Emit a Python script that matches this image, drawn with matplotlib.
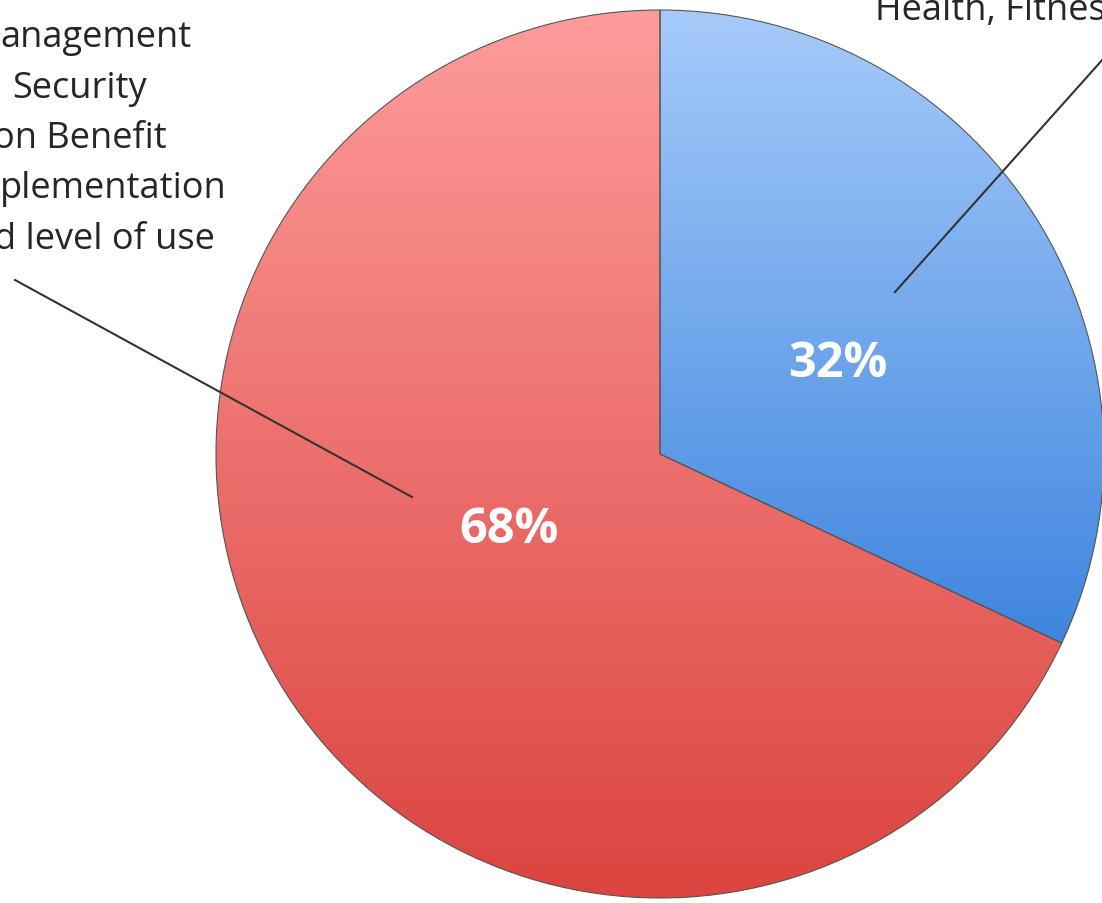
import numpy as np
import matplotlib.pyplot as plt
from matplotlib.colors import LinearSegmentedColormap

# data
categories = ['Health, Fitness', 'Management / Security / Benefit']
values = [32, 68]
pct_labels = ['32%', '68%']
left_lines = ['anagement', 'Security', 'on Benefit', 'plementation', 'd level of use']

W, H = 1102, 904
plt.rcParams['font.family'] = ['Open Sans', 'DejaVu Sans']

fig = plt.figure(figsize=(W / 100, H / 100), dpi=100)
ax = fig.add_axes([0, 0, 1, 1])

center = (660, 449)
radius = 444
wedges, _ = ax.pie(values, startangle=90, counterclock=False, center=center,
                   radius=radius, colors=['none', 'none'],
                   wedgeprops=dict(edgecolor='#555555', linewidth=0.8))

grads = [('#a6cbfa', '#3f85de'), ('#fe9c9b', '#db443f')]
for w, (top, bot) in zip(wedges, grads):
    bb = w.get_path().get_extents(w.get_patch_transform())
    cmap = LinearSegmentedColormap.from_list('g', [bot, top])
    g = np.linspace(0, 1, 256).reshape(-1, 1)
    im = ax.imshow(g, cmap=cmap, origin='lower', aspect='auto',
                   extent=[bb.x0, bb.x1, bb.y0, bb.y1], zorder=0.5)
    im.set_clip_path(w)
    w.set_zorder(1)

# percent labels, placed off the wedge mid-angles
for w, txt, r, off in zip(wedges, pct_labels, [0.45, 0.38], [-5.5, -5.8]):
    mid = np.deg2rad((w.theta1 + w.theta2) / 2 + off)
    ax.text(center[0] + r * radius * np.cos(mid), center[1] + r * radius * np.sin(mid),
            txt, color='white', fontsize=35, fontweight='bold',
            ha='center', va='center', zorder=3)

# category labels (cropped by the figure edge, as in the original)
rights = [192, 147, 167, 227, 215]
bases = [47, 98, 148, 198, 249]
for s, xr, yb in zip(left_lines, rights, bases):
    ax.text(xr, H - yb, s, fontsize=26, color='#262626', ha='right', va='baseline')
ax.text(875, H - 20, categories[0], fontsize=26, color='#262626',
        ha='left', va='baseline')

# leader lines
ax.plot([15, 412], [H - 281, H - 498], color='#333333', lw=1.5, zorder=2)
ax.plot([895, 1120], [H - 293, H - 41], color='#333333', lw=1.5, zorder=2)

ax.set_xlim(0, W)
ax.set_ylim(0, H)
ax.set_aspect('auto')
ax.axis('off')

fig.savefig('out.png', dpi=100)
